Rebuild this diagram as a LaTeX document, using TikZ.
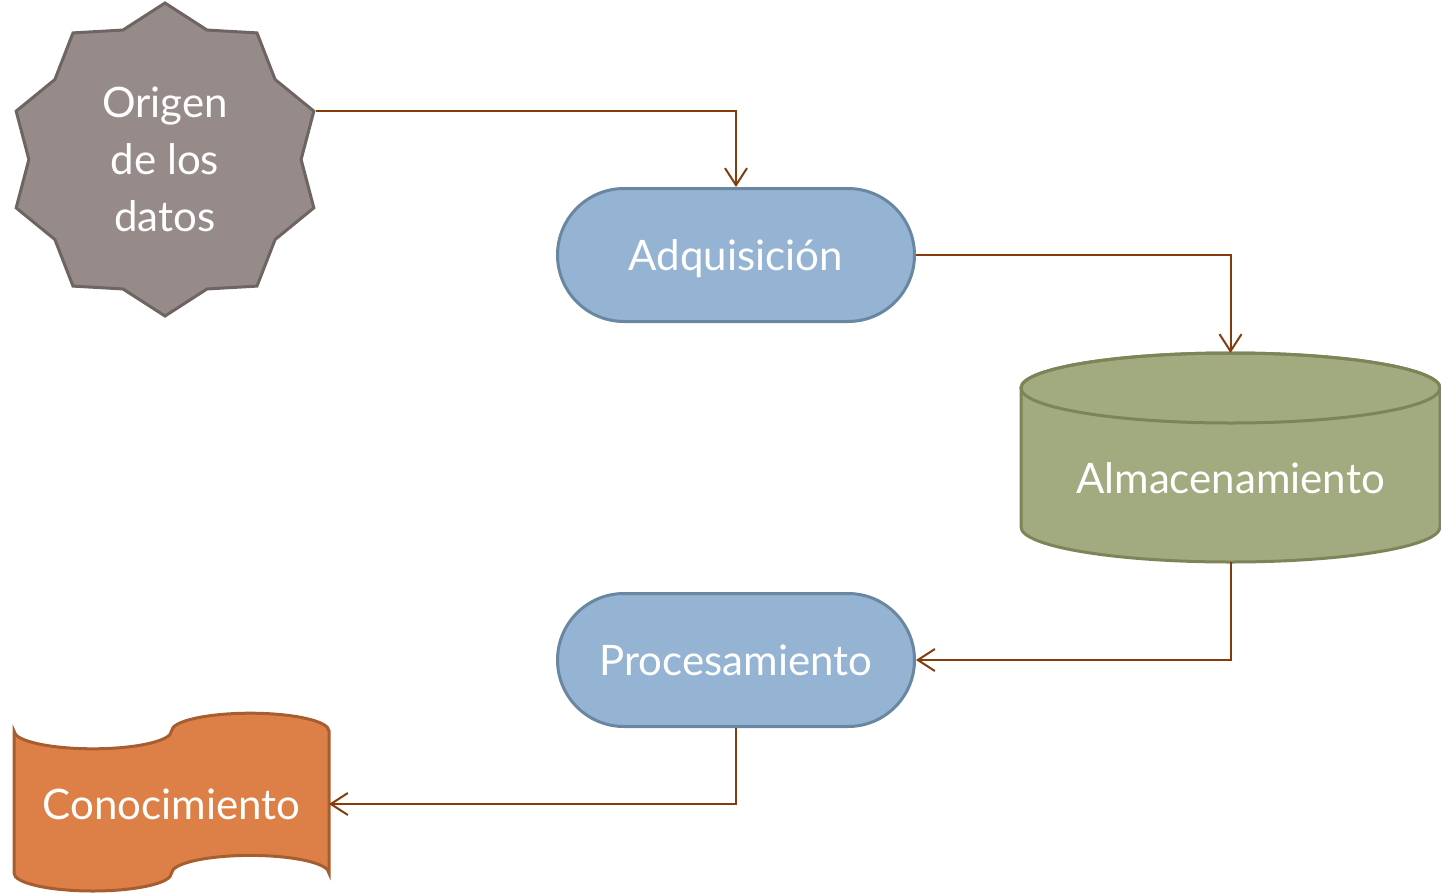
\documentclass[tikz,border=0pt]{standalone}
\usepackage{fontspec}
\setmainfont{Lato}
\usetikzlibrary{shapes.geometric,shapes.misc,arrows.meta}

\definecolor{starfill}{RGB}{150,139,137}
\definecolor{starline}{RGB}{110,101,99}
\definecolor{bluefill}{RGB}{149,179,210}
\definecolor{blueline}{RGB}{106,135,162}
\definecolor{greenfill}{RGB}{162,170,127}
\definecolor{greenline}{RGB}{125,133,88}
\definecolor{orangefill}{RGB}{221,128,71}
\definecolor{orangeline}{RGB}{166,94,48}
\definecolor{connbrown}{RGB}{132,60,12}

\tikzset{
  lbl/.style={text=white, font=\fontsize{42pt}{57pt}\selectfont},
  terminal/.style={rounded rectangle, draw=blueline, fill=bluefill, line width=3pt,
    minimum width=357pt, minimum height=133pt, inner sep=0pt,
    text height=30pt, text depth=0pt, lbl},
  holder/.style={inner sep=0pt, outer sep=0pt},
  conn/.style={draw=connbrown, line width=2pt,
    -{Straight Barb[length=17pt,width=22pt,line width=2pt]}},
}

\begin{document}
\begin{tikzpicture}[x=1pt,y=-1pt]
\useasboundingbox (0,0) rectangle (1441,892);

% data source: ten-pointed star
\node[star, star points=10, star point ratio=1.15, minimum size=313pt,
      draw=starline, fill=starfill, line width=3pt, align=center, inner sep=0pt, lbl]
      (org) at (165,159.5) {Origen\\de los\\datos};

% acquisition and processing terminals
\node[terminal] (adq) at (736,255) {Adquisición};
\node[terminal] (pro) at (736,660) {Procesamiento};

% storage cylinder
\path[fill=greenfill, draw=greenline, line width=3pt]
  (1021,388) -- (1021,527)
  arc[start angle=180, end angle=0, x radius=209.5, y radius=35]
  -- (1440,388)
  arc[start angle=0, end angle=-180, x radius=209.5, y radius=35] -- cycle;
\draw[greenline, line width=3pt] (1230.5,388) ellipse[x radius=209.5, y radius=35];
\node[holder, minimum width=419pt, minimum height=209pt] (alm) at (1230.5,457.5) {};
\node[lbl] (almtxt) at (1230.5,478) {Almacenamiento};

% knowledge: punched-tape shape
\path[fill=orangefill, draw=orangeline, line width=3pt]
  (14,731)
  arc[start angle=180, end angle=0, x radius=78.75, y radius=17.8]
  arc[start angle=180, end angle=360, x radius=78.75, y radius=17.8]
  -- (329,873.2)
  arc[start angle=0, end angle=-180, x radius=78.75, y radius=17.8]
  arc[start angle=0, end angle=180, x radius=78.75, y radius=17.8]
  -- cycle;
\node[holder, minimum width=315pt, minimum height=178pt, lbl] (con) at (171.5,804) {Conocimiento};

% flow connectors
\draw[conn] (org.18) -| (adq.north);
\draw[conn] (adq.east) -| (alm.north);
\draw[conn] (alm.south) |- (pro.east);
\draw[conn] (pro.south) |- (con.east);
\end{tikzpicture}
\end{document}
